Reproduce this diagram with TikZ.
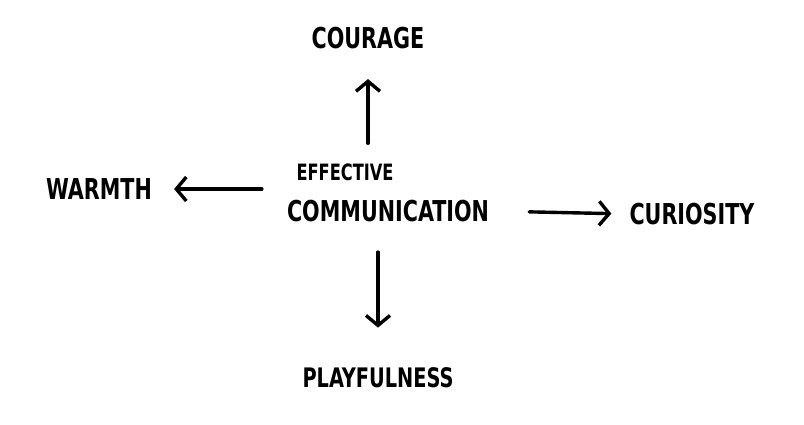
\documentclass[tikz,border=0pt]{standalone}
\usepackage{fontspec}
\usepackage{graphicx}
\setmainfont{DejaVu Sans Condensed}
\usetikzlibrary{arrows.meta}

\newcommand{\tallword}[1]{\scalebox{1}[1.25]{#1}}

\begin{document}
\begin{tikzpicture}[
    x=1pt, y=-1pt,
    word/.style={inner sep=0pt, font=\fontsize{23}{26}\selectfont\bfseries},
    arr/.style={-{Straight Barb[length=10pt, width=24pt, line width=3.4pt]}, line width=3.4pt, line cap=round}
]
\useasboundingbox (0,0) rectangle (804,424);

\node[word, font=\fontsize{18}{22}\selectfont\bfseries] (eff) at (345,172) {\tallword{EFFECTIVE}};
\node[word] (comm) at (388,211) {\tallword{COMMUNICATION}};
\node[word] (courage) at (368,38) {\tallword{COURAGE}};
\node[word] (warmth) at (99,189) {\tallword{WARMTH}};
\node[word] (curiosity) at (692,214) {\tallword{CURIOSITY}};
\node[word, font=\fontsize{21.5}{25}\selectfont\bfseries] (playful) at (378,378) {\tallword{PLAYFULNESS}};

% arrows out of the centre
\draw[arr, shorten <=20pt, shorten >=30pt] (eff.north -| courage) -- (courage.south);
\draw[arr, shorten <=25pt, shorten >=22pt] (comm.west |- warmth) -- (warmth.east);
\draw[arr, shorten <=40pt, shorten >=18pt] (comm.east) -- (curiosity.west);
\draw[arr, shorten <=30pt, shorten >=40pt] (comm.south -| playful) -- (playful.north);
\end{tikzpicture}
\end{document}
